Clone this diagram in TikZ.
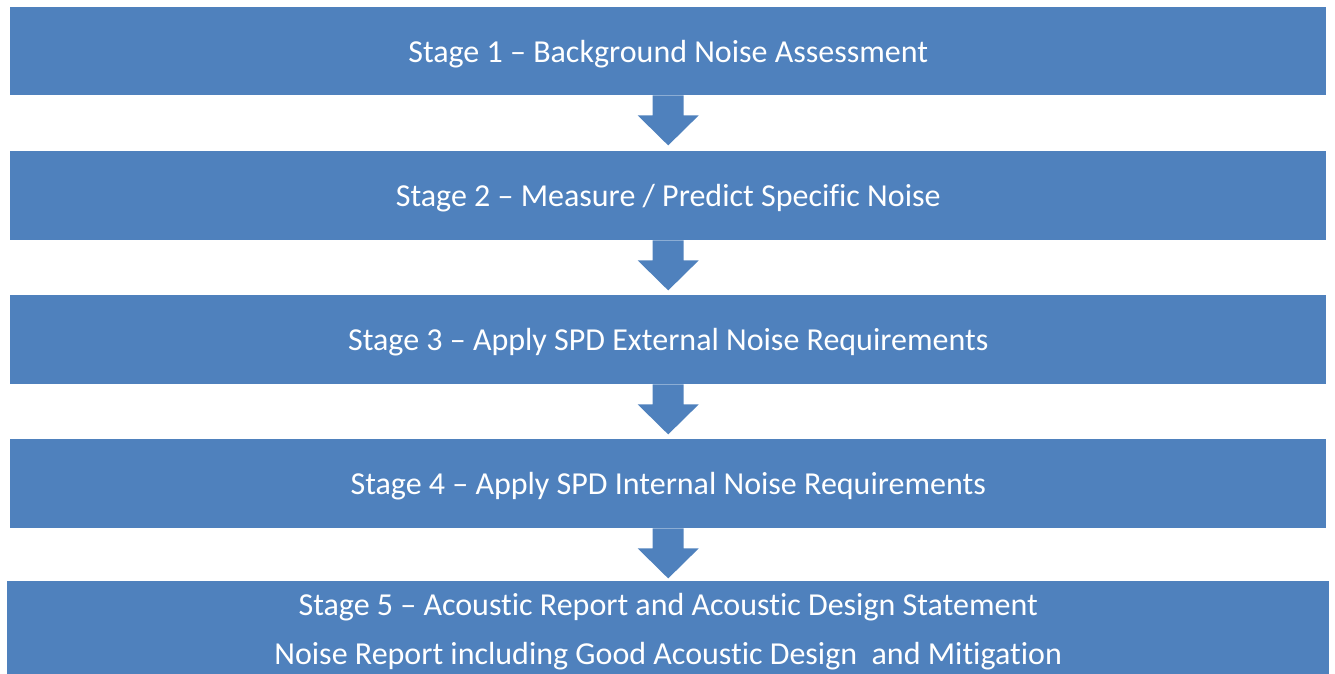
\documentclass[tikz,border=0pt]{standalone}
\usepackage{fontspec}
\setmainfont[Ligatures=NoCommon]{Carlito}
\usetikzlibrary{calc}
\definecolor{boxblue}{HTML}{4F81BD}
\tikzset{
  stagebox/.style={rectangle, fill=boxblue, draw=none, inner sep=0pt, anchor=north west,
    text=white, font=\fontsize{32}{49}\selectfont, align=center, text depth=0pt},
  blockarrow/.style={fill=boxblue, draw=none}
}
\begin{document}
\begin{tikzpicture}[x=1pt,y=-1pt]
\useasboundingbox (0,0) rectangle (1335,673);
\begin{scope}
\clip (0,0) rectangle (1335,673);
\node[stagebox, minimum width=1316pt, minimum height=88pt] (b1) at (10,7) {Stage 1 – Background Noise Assessment};
\node[stagebox, minimum width=1316pt, minimum height=89pt] (b2) at (10,151) {Stage 2 – Measure / Predict Specific Noise};
\node[stagebox, minimum width=1316pt, minimum height=89pt] (b3) at (10,295) {Stage 3 – Apply SPD External Noise Requirements};
\node[stagebox, minimum width=1316pt, minimum height=89pt] (b4) at (10,439) {Stage 4 – Apply SPD Internal Noise Requirements};
\node[stagebox, minimum width=1322pt, minimum height=95pt] (b5) at (7,581) {Stage 5 – Acoustic Report and Acoustic Design Statement\\Noise Report including Good Acoustic Design\ \ and Mitigation};
\foreach \a in {b1,b2,b3,b4}{
  \fill[blockarrow] ($(\a.south)+(-15.5,0)$) -- ($(\a.south)+(15.5,0)$) -- ($(\a.south)+(15.5,20)$)
    -- ($(\a.south)+(30.5,20)$) -- ($(\a.south)+(0,50)$) -- ($(\a.south)+(-30.5,20)$)
    -- ($(\a.south)+(-15.5,20)$) -- cycle;
}
\end{scope}
\end{tikzpicture}
\end{document}
